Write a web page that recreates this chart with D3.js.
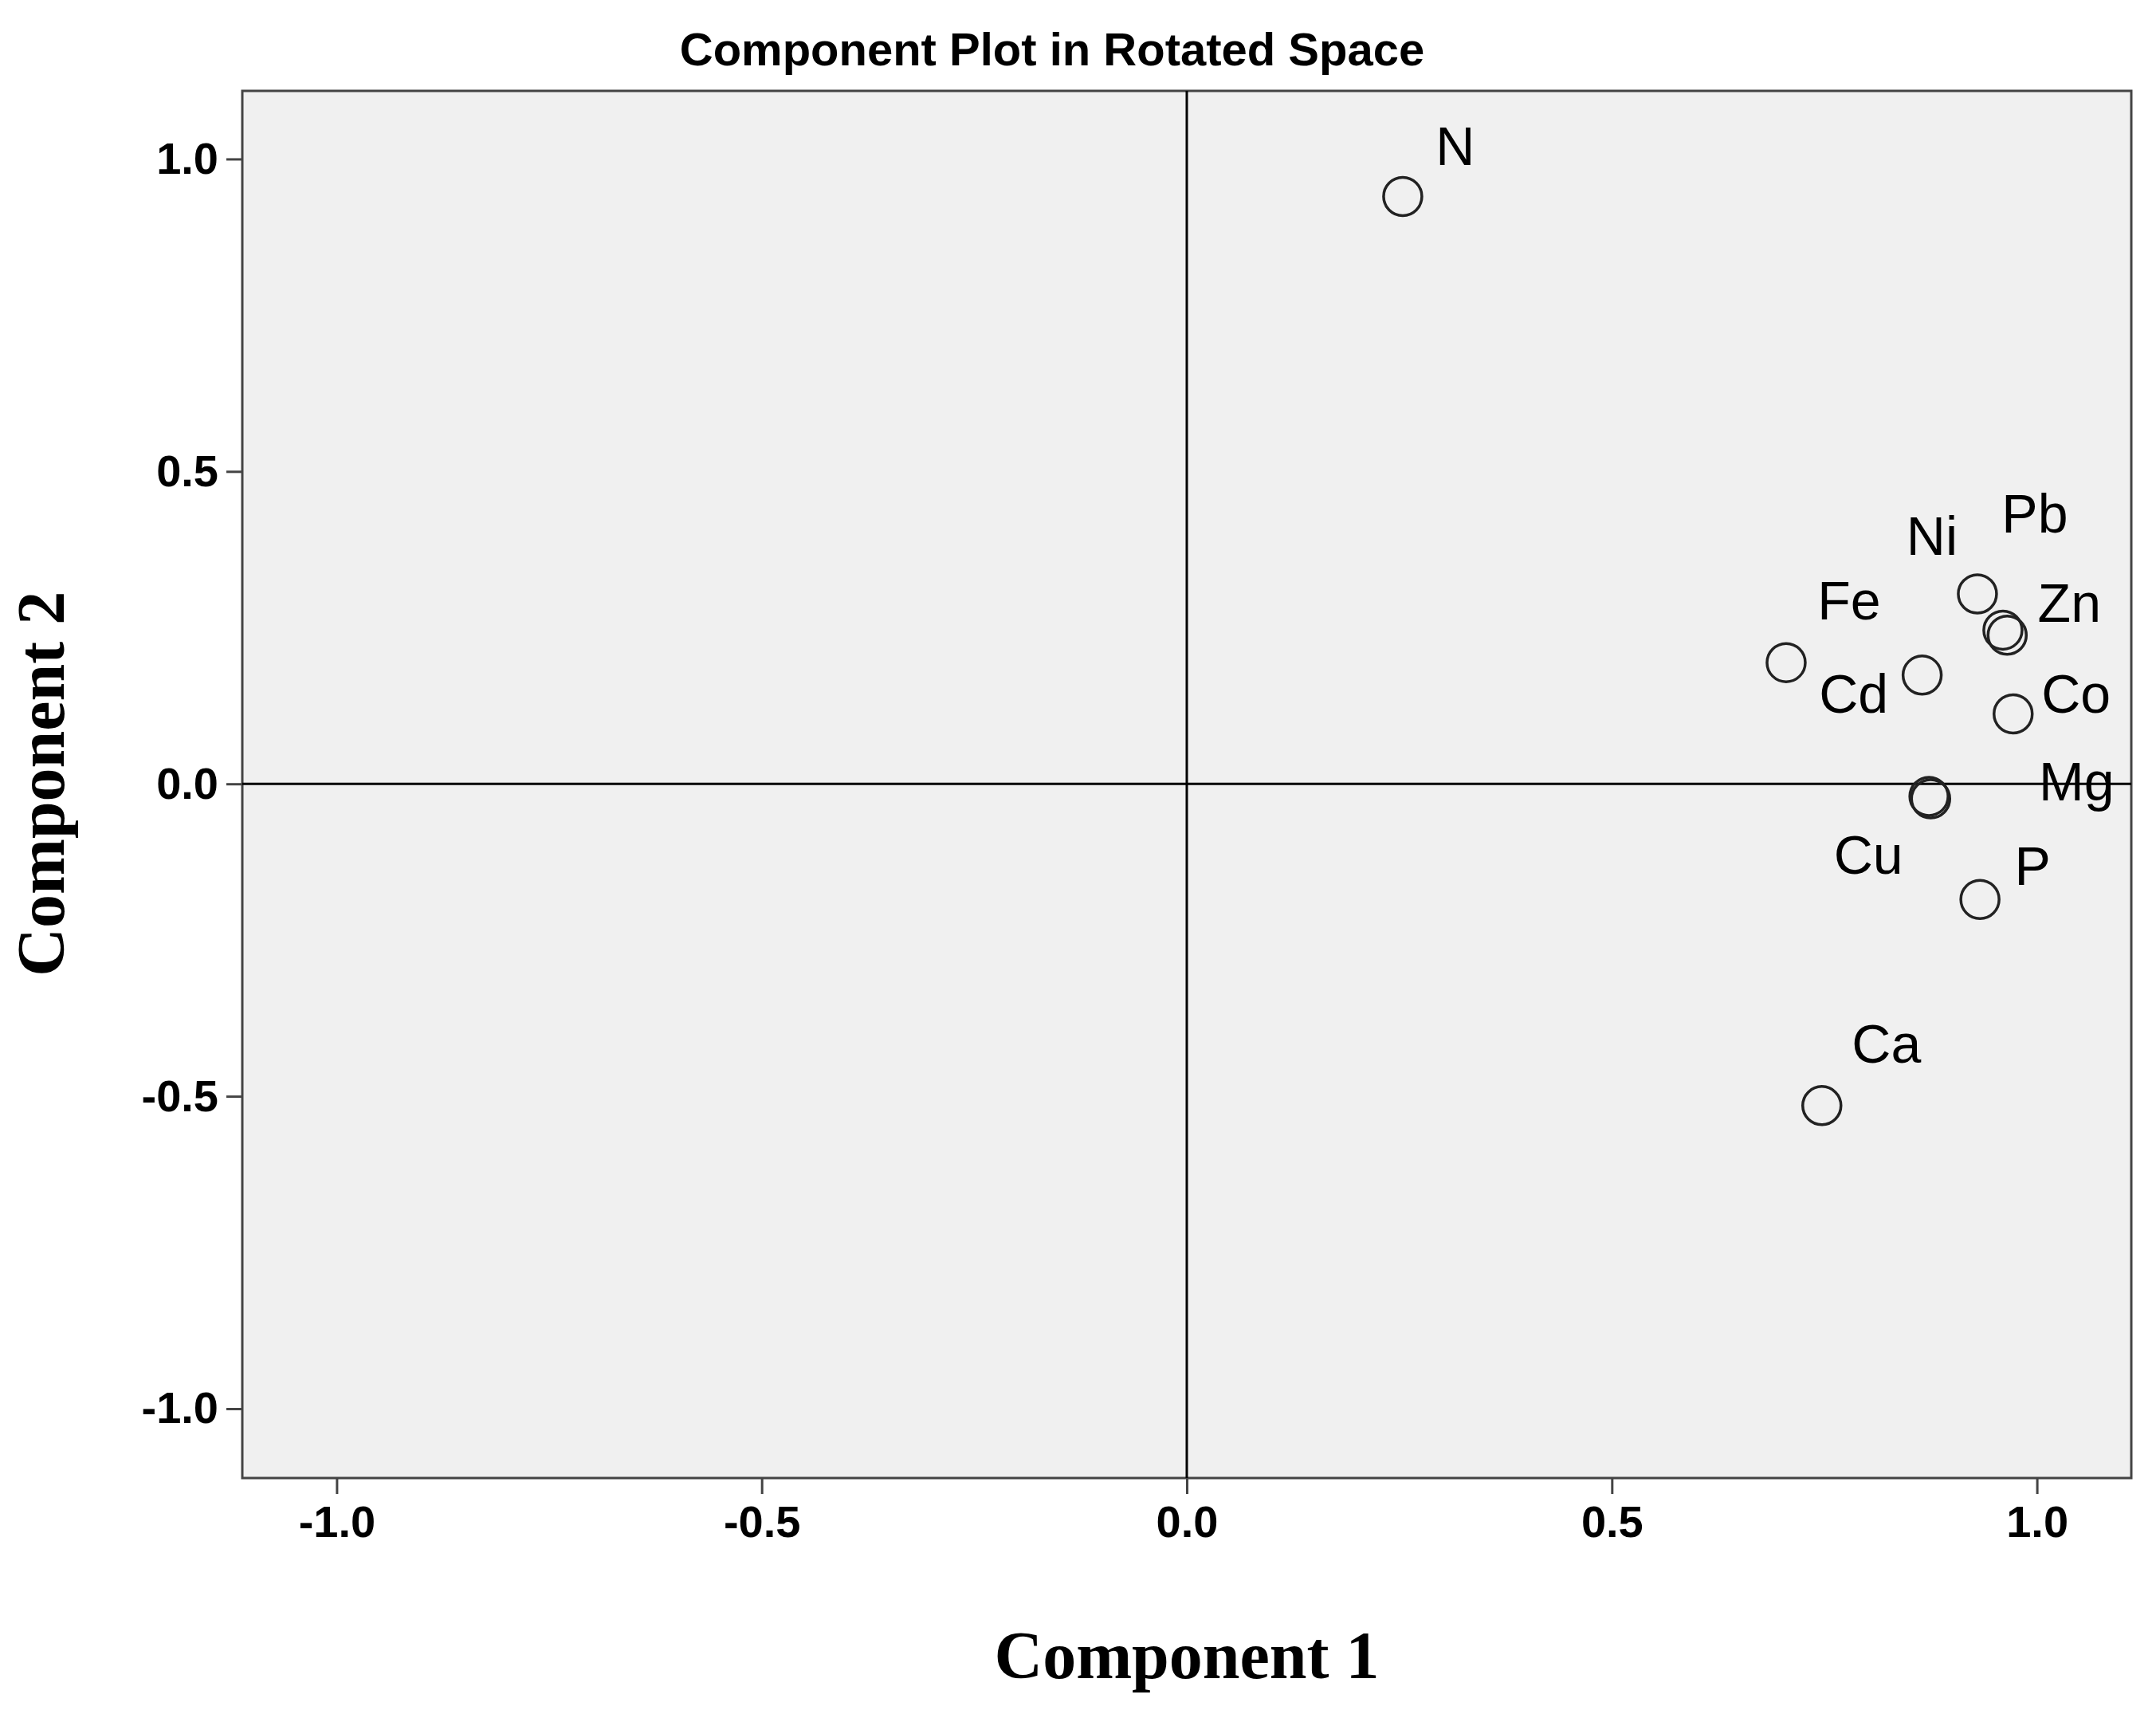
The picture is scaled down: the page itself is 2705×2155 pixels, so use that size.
<!DOCTYPE html>
<html><head><meta charset="utf-8">
<script src="https://cdn.jsdelivr.net/npm/d3@7"></script>
<style>body{margin:0;background:#fff}</style>
</head><body>
<svg id="chart" width="2705" height="2155"></svg>
<script>
var names = ["N","Ni","Pb","Zn","Fe","Cd","Co","Mg","Cu","P","Ca"];
var comp1 = [0.254,0.930,0.960,0.965,0.705,0.865,0.972,0.875,0.873,0.933,0.747];
var comp2 = [0.940,0.304,0.246,0.238,0.194,0.174,0.112,-0.024,-0.020,-0.185,-0.515];
// label offsets in px from the marker (label placement as in the source)
var labelDx = [66,-57,40,78,79,-86,79,183,-76,66,81];
var labelDy = [-57,-67,-140,-35,-72,29,-19,-16,79,-36,-72];
var ticks = [-1.0,-0.5,0.0,0.5,1.0];

var svg = d3.select("#chart");
var m = {left:304, right:2674, top:114, bottom:1854};
var x = d3.scaleLinear().domain([-1.111,1.111]).range([m.left,m.right]);
var y = d3.scaleLinear().domain([-1.111,1.109]).range([m.bottom,m.top]);

svg.append("rect").attr("x",m.left).attr("y",m.top)
  .attr("width",m.right-m.left).attr("height",m.bottom-m.top)
  .attr("fill","#f0f0f0").attr("stroke","#444").attr("stroke-width",3);

svg.append("line").attr("x1",x(0)).attr("x2",x(0)).attr("y1",m.top).attr("y2",m.bottom)
  .attr("stroke","#000").attr("stroke-width",3);
svg.append("line").attr("x1",m.left).attr("x2",m.right).attr("y1",y(0)).attr("y2",y(0))
  .attr("stroke","#000").attr("stroke-width",3);

var xa = svg.append("g").attr("transform","translate(0,"+m.bottom+")")
  .call(d3.axisBottom(x).tickValues(ticks).tickFormat(d3.format(".1f")).tickSize(20).tickPadding(14));
var ya = svg.append("g").attr("transform","translate("+m.left+",0)")
  .call(d3.axisLeft(y).tickValues(ticks).tickFormat(d3.format(".1f")).tickSize(20).tickPadding(10));
[xa,ya].forEach(function(a){
  a.select(".domain").remove();
  a.selectAll(".tick line").attr("stroke","#444").attr("stroke-width",3);
  a.selectAll(".tick text").attr("font-family","Arial, 'Liberation Sans', sans-serif")
    .attr("font-size",56).attr("font-weight","bold").attr("fill","#000")
    .text(function(d){return d3.format(".1f")(d).replace("−","-");});
});

var pts = names.map(function(n,i){return {name:n,c1:comp1[i],c2:comp2[i],dx:labelDx[i],dy:labelDy[i]};});
svg.selectAll("circle.pt").data(pts).enter().append("circle")
  .attr("cx",function(d){return x(d.c1);}).attr("cy",function(d){return y(d.c2);})
  .attr("r",24).attr("fill","none").attr("stroke","#222").attr("stroke-width",3.5);
svg.selectAll("text.lbl").data(pts).enter().append("text")
  .attr("x",function(d){return x(d.c1)+d.dx;}).attr("y",function(d){return y(d.c2)+d.dy;})
  .attr("text-anchor","middle").attr("dominant-baseline","middle")
  .attr("font-family","Arial, 'Liberation Sans', sans-serif").attr("font-size",68)
  .text(function(d){return d.name;});

svg.append("text").attr("x",1320).attr("y",82).attr("text-anchor","middle")
  .attr("font-family","Arial, 'Liberation Sans', sans-serif").attr("font-weight","bold")
  .attr("font-size",58).text("Component Plot in Rotated Space");
svg.append("text").attr("x",x(0)).attr("y",2105).attr("text-anchor","middle")
  .attr("font-family","'Liberation Serif', 'Times New Roman', serif").attr("font-weight","bold")
  .attr("font-size",84).text("Component 1");
svg.append("text").attr("transform","translate(80,"+y(0)+") rotate(-90)").attr("text-anchor","middle")
  .attr("font-family","'Liberation Serif', 'Times New Roman', serif").attr("font-weight","bold")
  .attr("font-size",84).text("Component 2");
</script>
</body></html>
